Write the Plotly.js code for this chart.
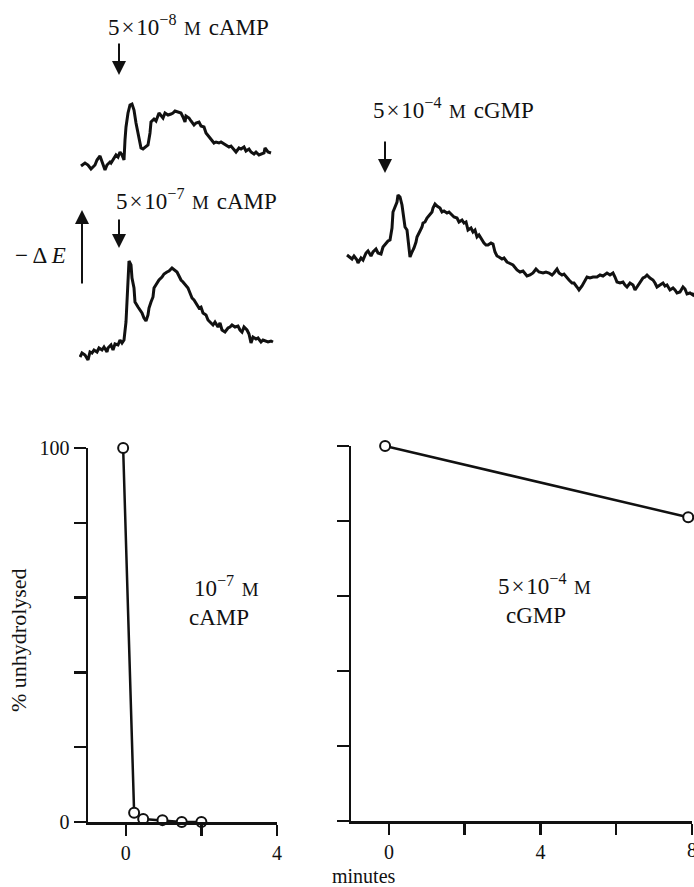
<!DOCTYPE html>
<html>
<head>
<meta charset="utf-8">
<script src="https://cdn.plot.ly/plotly-3.0.1.min.js"></script>
<style>html,body{margin:0;padding:0;background:#fff;}#chart{width:694px;height:887px;}</style>
</head>
<body>
<div id="chart"></div>
<script>
// ---- Response traces (time relative to addition, arbitrary units; -ΔE arbitrary units) ----
const camp8Time = [-38,-34,-31,-28,-24,-22,-19,-17,-14,-12,-9,-8,-5,-3,-1,1,3,5,6,7,9,11,13,15,17,20,22,24,27,29,31,32,35,37,40,42,44,46,49,52,54,56,59,62,64,66,67,70,72,75,77,80,82,85,87,90,92,95,97,100,102,105,107,110,112,115,117,120,122,125,127,130,132,135,137,140,142,145,146,149,152];
const camp8Signal = [4,7,5,1,5,10,14,8,0,5,8,7,12,15,13,18,15,10,30,43,57,65,66,60,47,33,22,21,23,25,37,48,51,49,57,55,52,57,55,56,57,59,58,57,53,48,54,52,49,45,47,48,44,43,37,33,30,27,28,27,28,26,25,23,24,21,18,22,21,23,19,21,18,16,18,15,16,17,22,18,17];

const camp7Time = [-39,-37,-34,-31,-29,-27,-25,-22,-20,-17,-15,-12,-11,-8,-6,-4,-1,1,3,5,7,8,9,10,12,13,15,16,19,21,23,25,27,29,30,32,34,35,38,40,43,45,48,50,53,55,58,60,62,64,67,69,71,73,75,78,80,82,84,87,89,92,94,96,99,101,103,106,109,111,113,116,119,121,123,125,128,130,132,134,137,139,142,144,147,149,152,154];
const camp7Signal = [3,7,5,0,8,7,10,8,12,10,13,8,12,15,10,16,15,20,17,20,38,65,88,99,95,82,72,58,53,50,47,42,39,45,52,58,63,72,77,80,83,86,88,89,92,90,88,84,80,78,74,72,67,62,60,55,52,53,47,45,40,37,35,38,33,37,30,28,32,33,35,33,34,30,28,33,30,26,17,23,21,22,18,20,19,18,19,18];

const cgmpTime = [-38,-36,-33,-31,-28,-27,-24,-22,-19,-17,-14,-12,-9,-7,-4,-2,1,3,5,7,8,10,12,13,15,17,18,20,22,23,25,27,29,31,32,34,37,38,40,42,44,47,48,50,52,55,57,59,62,64,67,69,72,74,77,79,81,83,86,88,90,92,94,97,99,101,103,106,108,110,112,114,117,119,122,124,128,132,135,138,142,145,148,151,154,158,161,164,167,169,172,174,177,179,182,184,187,189,192,194,197,199,202,205,208,212,215,218,222,225,228,230,232,235,238,240,242,245,248,250,252,255,258,260,262,265,268,270,272,275,278,280,282,285,288,290,292,295,298,300,302,305,308,309];
const cgmpSignal = [10,8,6,9,5,2,7,5,12,14,9,13,16,12,11,18,22,24,25,37,53,58,63,70,68,60,52,38,35,25,8,13,17,23,28,32,38,42,43,47,49,53,57,61,59,57,53,54,52,53,50,48,47,43,45,42,43,35,37,33,35,28,30,25,22,20,20,22,21,13,9,8,6,7,3,2,0,-5,-7,-6,-11,-10,-8,-4,-7,-8,-7,-8,-10,-8,-4,-8,-10,-9,-13,-15,-18,-18,-22,-25,-21,-17,-12,-13,-12,-12,-10,-11,-8,-10,-8,-12,-17,-18,-17,-20,-22,-18,-20,-25,-22,-18,-13,-12,-10,-13,-15,-18,-22,-20,-18,-21,-20,-25,-23,-25,-28,-27,-22,-24,-29,-28,-30,-28];

// ---- Hydrolysis panels ----
const campMinutes = [-0.07, 0.22, 0.46, 0.97, 1.48, 2.0];
const campUnhydrolysed = [100, 2.5, 0.8, 0.5, 0, 0];
const cgmpMinutes = [-0.1, 7.9];
const cgmpUnhydrolysed = [100, 81];

const leftXTicks = [0, 4];
const leftXMinor = [2];
const rightXTicks = [0, 4];
const rightXMinor = [2, 6, 8];
const rightXEdgeLabel = 8;
const yTicks = [0, 100];
const yMinor = [20, 40, 60, 80];

// ---- layout helpers (page pixels -> paper fractions) ----
const W = 694, H = 887;
const X = p => p / W;
const Y = p => 1 - p / H;

const FONT = 'Liberation Serif, Times New Roman, serif';
const BLACK = '#111';

const traceLine = {color: BLACK, width: 3};
const data = [
  {x: camp8Time, y: camp8Signal, xaxis: 'x3', yaxis: 'y3', mode: 'lines', line: traceLine, cliponaxis: false, hoverinfo: 'skip'},
  {x: camp7Time, y: camp7Signal, xaxis: 'x4', yaxis: 'y4', mode: 'lines', line: traceLine, cliponaxis: false, hoverinfo: 'skip'},
  {x: cgmpTime, y: cgmpSignal, xaxis: 'x5', yaxis: 'y5', mode: 'lines', line: traceLine, cliponaxis: false, hoverinfo: 'skip'},
  {x: campMinutes, y: campUnhydrolysed, xaxis: 'x', yaxis: 'y', mode: 'lines+markers', cliponaxis: false,
   line: {color: BLACK, width: 2.5},
   marker: {symbol: 'circle', size: 10, color: '#fff', line: {color: BLACK, width: 2}}},
  {x: cgmpMinutes, y: cgmpUnhydrolysed, xaxis: 'x2', yaxis: 'y2', mode: 'lines+markers', cliponaxis: false,
   line: {color: BLACK, width: 2.5},
   marker: {symbol: 'circle', size: 10, color: '#fff', line: {color: BLACK, width: 2}}}
];

function axis(extra, len, minorVals) {
  return Object.assign({
    showline: true, linecolor: BLACK, linewidth: 2.5,
    ticks: 'outside', tickcolor: BLACK, tickwidth: 2.5, ticklen: len,
    tickmode: 'array',
    minor: {tickmode: 'array', tickvals: minorVals, ticks: 'outside', ticklen: len, tickwidth: 2.5, tickcolor: BLACK, showgrid: false},
    showgrid: false, zeroline: false, fixedrange: true,
    tickfont: {family: FONT, size: 20, color: BLACK}
  }, extra);
}
const hidden = {visible: false, fixedrange: true, showgrid: false, zeroline: false};

const M = '<span style="font-size:19px">M</span>';
const TIMES = '\u200a\u00d7\u200a';
const GAP = '\u2004';
function txt(text, xpx, ypx, anchor, extra, size) {
  return Object.assign({
    text: text, xref: 'paper', yref: 'paper', x: X(xpx), y: Y(ypx),
    xanchor: anchor || 'left', yanchor: 'middle', showarrow: false,
    font: {family: FONT, size: size || 23, color: BLACK}
  }, extra || {});
}
function arrow(xpx, headY, dy) {
  return {
    text: '', xref: 'paper', yref: 'paper', x: X(xpx), y: Y(headY),
    ax: 0, ay: dy, axref: 'pixel', ayref: 'pixel',
    showarrow: true, arrowhead: 2, arrowsize: 1.4, arrowwidth: 2, arrowcolor: BLACK, standoff: 0
  };
}

const layout = {
  width: W, height: H,
  margin: {l: 0, r: 0, t: 0, b: 0},
  paper_bgcolor: '#fff', plot_bgcolor: 'rgba(0,0,0,0)',
  showlegend: false,
  font: {family: FONT, size: 20, color: BLACK},
  xaxis: axis({domain: [X(88), X(277)], range: [-1, 4], anchor: 'y', tickvals: leftXTicks}, 11, leftXMinor),
  yaxis: axis({domain: [Y(822), Y(448)], range: [0, 100], anchor: 'x', tickvals: yTicks}, 12, yMinor),
  xaxis2: axis({domain: [X(351), X(692)], range: [-1, 8], anchor: 'y2', tickvals: rightXTicks}, 11, rightXMinor),
  yaxis2: axis({domain: [Y(821), Y(446)], range: [0, 100], anchor: 'x2', tickvals: yTicks, showticklabels: false}, 12, yMinor),
  xaxis3: Object.assign({}, hidden, {domain: [X(79), X(279)], range: [-40, 160], anchor: 'y3'}),
  yaxis3: Object.assign({}, hidden, {domain: [Y(180), Y(90)], range: [-10, 80], anchor: 'x3'}),
  xaxis4: Object.assign({}, hidden, {domain: [X(79), X(279)], range: [-40, 160], anchor: 'y4'}),
  yaxis4: Object.assign({}, hidden, {domain: [Y(370), Y(250)], range: [-10, 110], anchor: 'x4'}),
  xaxis5: Object.assign({}, hidden, {domain: [X(345), X(694)], range: [-40, 309], anchor: 'y5'}),
  yaxis5: Object.assign({}, hidden, {domain: [Y(310), Y(180)], range: [-45, 85], anchor: 'x5'}),
  annotations: [
    txt('5' + TIMES + '10<sup>\u22128</sup>' + GAP + M + GAP + 'cAMP', 106, 26),
    txt('5' + TIMES + '10<sup>\u22127</sup>' + GAP + M + GAP + 'cAMP', 114, 200),
    txt('5' + TIMES + '10<sup>\u22124</sup>' + GAP + M + GAP + 'cGMP', 371, 108),
    txt('\u2212 \u0394 <i>E</i>', 68, 255, 'right'),
    arrow(119, 75, -33),
    arrow(119, 248, -30),
    arrow(385, 173, -33),
    arrow(82, 210, 75),
    txt('10<sup>\u22127</sup>' + GAP + M, 192, 586),
    txt('cAMP', 187, 617),
    txt('5' + TIMES + '10<sup>\u22124</sup>' + GAP + M, 496, 584),
    txt('cGMP', 504, 615),
    txt('% unhydrolysed', 18, 640, 'center', {textangle: -90}, 22),
    txt('minutes', 364, 876, 'center', null, 20),
    {text: String(rightXEdgeLabel), xref: 'x2', yref: 'paper', x: rightXEdgeLabel, y: Y(850),
     xanchor: 'center', yanchor: 'middle', showarrow: false, font: {family: FONT, size: 20, color: BLACK}}
  ]
};

Plotly.newPlot('chart', data, layout, {staticPlot: true, displayModeBar: false});
</script>
</body>
</html>
